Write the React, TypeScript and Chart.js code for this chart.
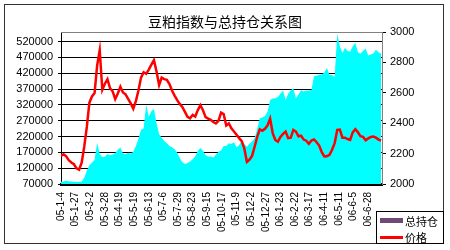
import React, { useEffect, useRef } from 'react';
import { Chart, registerables } from 'chart.js';

Chart.register(...registerables);

// x-axis tick labels (one every 17 trading days)
const xLabels = [
  '05-1-4', '05-1-27', '05-3-2', '05-3-28', '05-4-19', '05-5-19', '05-6-13', '05-7-6',
  '05-7-29', '05-8-23', '05-9-15', '05-10-17', '05-11-9', '05-12-2', '05-12-27', '06-1-23',
  '06-2-22', '06-3-17', '06-4-11', '06-5-11', '06-6-5', '06-6-28',
];
const labelEvery = 17; // trading days between x labels
const dayStep = 3; // trading days between samples
const totalDays = 374;

const leftTicks = [70000, 120000, 170000, 220000, 270000, 320000, 370000, 420000, 470000, 520000];
const rightTicks = [2000, 2100, 2200, 2300, 2400, 2500, 2600, 2700, 2800, 2900, 3000];

// 价格 (right axis)
const price = [
  2185, 2196, 2182, 2157, 2142, 2130, 2103, 2094, 2140, 2245,
  2375, 2535, 2576, 2598, 2780, 2880, 2620, 2660, 2690, 2630,
  2610, 2558, 2595, 2640, 2602, 2590, 2560, 2530, 2495, 2545,
  2615, 2700, 2735, 2725, 2752, 2785, 2815, 2740, 2650, 2700,
  2690, 2686, 2658, 2615, 2582, 2552, 2527, 2507, 2475, 2442,
  2432, 2455, 2444, 2486, 2518, 2485, 2440, 2430, 2422, 2408,
  2398, 2415, 2470, 2460, 2385, 2398, 2366, 2345, 2324, 2302,
  2282, 2234, 2145, 2160, 2185, 2245, 2310, 2360, 2350, 2363,
  2385, 2430, 2335, 2290, 2278, 2310, 2330, 2345, 2302, 2305,
  2356, 2345, 2314, 2318, 2292, 2285, 2265, 2286, 2293, 2275,
  2253, 2210, 2182, 2183, 2192, 2225, 2269, 2356, 2358, 2305,
  2305, 2296, 2290, 2340, 2360, 2340, 2315, 2310, 2288, 2300,
  2310, 2312, 2305, 2292, 2285,
];

// 总持仓 (left axis)
const holdings = [
  77000, 78000, 80000, 79000, 78000, 77000, 77000, 77000, 77000, 90000,
  112000, 129000, 138000, 146000, 200000, 165000, 155000, 156000, 165000, 161000,
  163000, 168000, 178000, 185000, 166000, 164000, 169000, 166000, 172000, 190000,
  213000, 241000, 245000, 320000, 283000, 300000, 307000, 262000, 228000, 215000,
  206000, 199000, 190000, 186000, 180000, 169000, 152000, 139000, 133000, 136000,
  141000, 148000, 158000, 175000, 184000, 175000, 161000, 157000, 157000, 154000,
  163000, 172000, 176000, 190000, 190000, 199000, 196000, 202000, 186000, 192000,
  207000, 196000, 188000, 197000, 204000, 215000, 244000, 278000, 280000, 285000,
  298000, 335000, 340000, 341000, 345000, 355000, 365000, 335000, 355000, 366000,
  372000, 340000, 353000, 366000, 362000, 365000, 365000, 367000, 410000, 412000,
  415000, 416000, 422000, 436000, 414000, 414000, 408000, 545000, 505000, 484000,
  500000, 490000, 488000, 505000, 515000, 486000, 481000, 490000, 498000, 476000,
  479000, 482000, 494000, 485000, 482000,
];

const tickFont = { family: '"Liberation Sans", Arial, sans-serif', size: 11 };

const framePlugin = {
  id: 'plotFrame',
  afterDatasetsDraw(chart: any) {
    const { ctx, chartArea: a } = chart;
    ctx.save();
    ctx.strokeStyle = '#808080';
    ctx.lineWidth = 1;
    ctx.beginPath();
    ctx.moveTo(a.left, Math.round(a.top) + 0.5);
    ctx.lineTo(Math.round(a.right) + 0.5, Math.round(a.top) + 0.5);
    ctx.lineTo(Math.round(a.right) + 0.5, a.bottom);
    ctx.stroke();
    ctx.restore();
  },
};

export default function App() {
  const ref = useRef<HTMLCanvasElement>(null);

  useEffect(() => {
    const chart = new Chart(ref.current as HTMLCanvasElement, {
      type: 'line',
      data: {
        datasets: [
          {
            label: '价格',
            data: price.map((p, i) => ({ x: i * dayStep, y: p })),
            yAxisID: 'y1',
            borderColor: '#ff0000',
            borderWidth: 2.5,
            pointRadius: 0,
            fill: false,
            tension: 0,
            order: 0,
          },
          {
            label: '总持仓',
            data: holdings.map((v, i) => ({ x: i * dayStep, y: v })),
            yAxisID: 'y',
            borderColor: 'rgba(0,0,0,0)',
            borderWidth: 0,
            backgroundColor: '#00ffff',
            fill: 'start',
            pointRadius: 0,
            tension: 0,
            order: 1,
          },
        ],
      },
      options: {
        animation: false,
        responsive: false,
        devicePixelRatio: 1,
        layout: { padding: { top: 32, left: 0, right: 0, bottom: 0 } },
        plugins: {
          legend: { display: false },
          title: { display: false },
          tooltip: { enabled: false },
        },
        scales: {
          x: {
            type: 'linear',
            min: 0,
            max: totalDays - 1,
            z: 1,
            afterBuildTicks: (s: any) => {
              s.ticks = xLabels.map((_, k) => ({ value: k * labelEvery }));
            },
            afterFit: (s: any) => {
              s.height = 66;
            },
            grid: { display: false, drawTicks: false },
            border: { display: true, color: '#000', width: 3 },
            ticks: {
              autoSkip: false,
              maxRotation: 90,
              minRotation: 90,
              padding: 8,
              color: '#000',
              font: { family: '"Liberation Sans", Arial, sans-serif', size: 10 },
              callback: (v: any) => xLabels[Math.round(Number(v) / labelEvery)] ?? '',
            },
          },
          y: {
            type: 'linear',
            position: 'left',
            min: 70000,
            max: 550000,
            afterBuildTicks: (s: any) => {
              s.ticks = leftTicks.map((v) => ({ value: v }));
            },
            afterFit: (s: any) => {
              s.width = 61;
            },
            grid: { color: '#000', lineWidth: 1, drawTicks: true, tickLength: 3, tickColor: '#000' },
            border: { display: true, color: '#000', width: 1 },
            ticks: {
              padding: 5,
              color: '#000',
              font: tickFont,
              callback: (v: any) => String(v),
            },
          },
          y1: {
            type: 'linear',
            position: 'right',
            min: 2000,
            max: 3000,
            afterBuildTicks: (s: any) => {
              s.ticks = rightTicks.map((v) => ({ value: v }));
            },
            afterFit: (s: any) => {
              s.width = 68;
            },
            grid: { drawOnChartArea: false, drawTicks: true, tickLength: 4, tickColor: '#000' },
            border: { display: true, color: '#808080', width: 1 },
            ticks: {
              padding: 4,
              color: '#000',
              font: tickFont,
              callback: (v: any) => String(v),
            },
          },
        },
      },
      plugins: [framePlugin],
    } as any);
    return () => chart.destroy();
  }, []);

  const cjk = '"Noto Sans CJK SC", "Noto Sans", sans-serif';

  return (
    <div style={{ position: 'fixed', left: 0, top: 0, width: 450, height: 250, background: '#fff', overflow: 'hidden' }}>
      <canvas ref={ref} width={450} height={250} style={{ position: 'absolute', left: 0, top: 0, width: 450, height: 250 }} />
      <div
        style={{
          position: 'absolute', left: 4, top: 4, width: 440, height: 240,
          boxSizing: 'border-box', border: '1px solid #333', pointerEvents: 'none',
        }}
      />
      <div
        style={{
          position: 'absolute', left: 0, top: 12, width: 450, textAlign: 'center',
          fontFamily: cjk, fontSize: 14, lineHeight: '18px', color: '#000',
        }}
      >
        豆粕指数与总持仓关系图
      </div>
      <div
        style={{
          position: 'absolute', left: 376, top: 211, width: 68, height: 33,
          boxSizing: 'border-box', border: '1px solid #000', background: '#fff',
          fontFamily: cjk, fontSize: 11, color: '#000',
        }}
      >
        <div style={{ position: 'absolute', left: 3, top: 6, width: 23, height: 5, background: '#6e4a74' }} />
        <div style={{ position: 'absolute', left: 28, top: 1, lineHeight: '16px' }}>总持仓</div>
        <div style={{ position: 'absolute', left: 3, top: 24, width: 23, height: 3, background: '#ff0000' }} />
        <div style={{ position: 'absolute', left: 28, top: 17, lineHeight: '16px' }}>价格</div>
      </div>
    </div>
  );
}
